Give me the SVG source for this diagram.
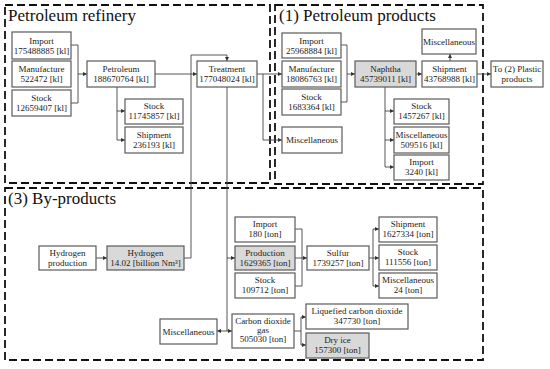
<svg xmlns="http://www.w3.org/2000/svg" width="550" height="369" viewBox="0 0 550 369">
<defs>
<marker id="ah" markerUnits="userSpaceOnUse" markerWidth="5" markerHeight="5" refX="4" refY="2.5" orient="auto">
<path d="M0,0.5 L4,2.5 L0,4.5 Z" fill="#333"/>
</marker>
</defs>
<style>
.box{fill:#fff;stroke:#5a5a5a;stroke-width:1.2}
.gray{fill:#d9d9d9}
.t{font-family:"Liberation Serif","Times New Roman",serif;font-size:9px;fill:#222;text-anchor:middle}
.title{font-family:"Liberation Serif","Times New Roman",serif;font-size:17px;fill:#111}
.dash{fill:none;stroke:#111;stroke-width:1.8;stroke-dasharray:8 4}
.c{fill:none;stroke:#444;stroke-width:0.9}
.a{marker-end:url(#ah)}
</style>
<rect width="550" height="369" fill="#fff"/>

<g id="regions">
<rect class="dash" x="5" y="5" width="265" height="178"/>
<rect class="dash" x="275" y="5" width="208" height="179"/>
<rect class="dash" x="5" y="188" width="478" height="172"/>
<text class="title" x="8" y="21">Petroleum refinery</text>
<text class="title" x="279" y="21">(1) Petroleum products</text>
<text class="title" x="8" y="204">(3) By-products</text>
</g>

<g id="connectors">
<path class="c" d="M71,45 H78 V103 H71"/>
<path class="c a" d="M78,74 H87"/>
<path class="c" d="M117,87 V140"/>
<path class="c a" d="M117,111 H125"/>
<path class="c a" d="M117,140 H125"/>
<path class="c a" d="M155,74 H197"/>
<path class="c a" d="M184,258 H191 V55 H227 V61"/>
<path class="c a" d="M257,74 H282"/>
<path class="c a" d="M263,74 V140 H282"/>
<path class="c" d="M227,87 V331"/>
<path class="c a" d="M227,258 H235"/>
<path class="c a" d="M227,331 H217"/>
<path class="c a" d="M227,331 H232"/>
<path class="c" d="M341,45 H347 V102 H341"/>
<path class="c a" d="M347,74 H355"/>
<path class="c" d="M385,87 V167"/>
<path class="c a" d="M385,111 H394"/>
<path class="c a" d="M385,140 H394"/>
<path class="c a" d="M385,167 H394"/>
<path class="c a" d="M416,74 H422"/>
<path class="c a" d="M450,61 V54"/>
<path class="c a" d="M477,74 H491"/>
<path class="c a" d="M96,258 H107"/>
<path class="c" d="M295,229 H302 V286 H295"/>
<path class="c" d="M295,258 H302"/>
<path class="c a" d="M302,258 H307"/>
<path class="c" d="M369,258 H373"/>
<path class="c" d="M373,229 V286"/>
<path class="c a" d="M373,229 H379"/>
<path class="c a" d="M373,258 H379"/>
<path class="c a" d="M373,286 H379"/>
<path class="c" d="M294,331 H301"/>
<path class="c" d="M301,317 V345"/>
<path class="c a" d="M301,317 H306"/>
<path class="c a" d="M301,345 H306"/>
</g>

<g id="r_import"><rect class="box" x="12" y="32" width="59" height="27"/><text class="t" x="41.5" y="44">Import</text><text class="t" x="41.5" y="54">175488885 [kl]</text></g>
<g id="r_manufacture"><rect class="box" x="12" y="61" width="59" height="26"/><text class="t" x="41.5" y="72">Manufacture</text><text class="t" x="41.5" y="82">522472 [kl]</text></g>
<g id="r_stock"><rect class="box" x="12" y="90" width="59" height="26"/><text class="t" x="41.5" y="101">Stock</text><text class="t" x="41.5" y="111">12659407 [kl]</text></g>
<g id="petroleum"><rect class="box" x="87" y="61" width="68" height="26"/><text class="t" x="121" y="72">Petroleum</text><text class="t" x="121" y="82">188670764 [kl]</text></g>
<g id="r_stock2"><rect class="box" x="125" y="99" width="58" height="25"/><text class="t" x="154" y="109">Stock</text><text class="t" x="154" y="119">11745857 [kl]</text></g>
<g id="r_shipment"><rect class="box" x="125" y="127" width="58" height="26"/><text class="t" x="154" y="138">Shipment</text><text class="t" x="154" y="148">236193 [kl]</text></g>
<g id="treatment"><rect class="box" x="197" y="61" width="60" height="26"/><text class="t" x="227" y="72">Treatment</text><text class="t" x="227" y="82">177048024 [kl]</text></g>

<g id="p_import"><rect class="box" x="282" y="33" width="59" height="25"/><text class="t" x="311.5" y="44">Import</text><text class="t" x="311.5" y="54">25968884 [kl]</text></g>
<g id="p_manufacture"><rect class="box" x="282" y="61" width="59" height="26"/><text class="t" x="311.5" y="72">Manufacture</text><text class="t" x="311.5" y="82">18086763 [kl]</text></g>
<g id="p_stock"><rect class="box" x="282" y="89" width="59" height="26"/><text class="t" x="311.5" y="100">Stock</text><text class="t" x="311.5" y="110">1683364 [kl]</text></g>
<g id="p_misc"><rect class="box" x="282" y="127" width="60" height="26"/><text class="t" x="312" y="143">Miscellaneous</text></g>
<g id="naphtha"><rect class="box gray" x="355" y="61" width="61" height="26"/><text class="t" x="385.5" y="72">Naphtha</text><text class="t" x="385.5" y="82">45739011 [kl]</text></g>
<g id="p_shipment"><rect class="box" x="422" y="61" width="55" height="26"/><text class="t" x="449.5" y="72">Shipment</text><text class="t" x="449.5" y="82">43768988 [kl]</text></g>
<g id="p_misc2"><rect class="box" x="422" y="29" width="54" height="25"/><text class="t" x="449" y="44.5">Miscellaneous</text></g>
<g id="to_plastic"><rect class="box" x="491" y="61" width="52" height="26"/><text class="t" x="517" y="72">To (2) Plastic</text><text class="t" x="517" y="82">products</text></g>
<g id="n_stock"><rect class="box" x="394" y="99" width="55" height="25"/><text class="t" x="421.5" y="109">Stock</text><text class="t" x="421.5" y="119">1457267 [kl]</text></g>
<g id="n_misc"><rect class="box" x="394" y="127" width="55" height="26"/><text class="t" x="421.5" y="138">Miscellaneous</text><text class="t" x="421.5" y="148">509516 [kl]</text></g>
<g id="n_import"><rect class="box" x="394" y="155" width="55" height="25"/><text class="t" x="421.5" y="165">Import</text><text class="t" x="421.5" y="175">3240 [kl]</text></g>

<g id="h_production"><rect class="box" x="39" y="246" width="57" height="24"/><text class="t" x="67.5" y="256">Hydrogen</text><text class="t" x="67.5" y="266">production</text></g>
<g id="hydrogen"><rect class="box gray" x="107" y="246" width="77" height="24"/><text class="t" x="145.5" y="256">Hydrogen</text><text class="t" x="145.5" y="266">14.02 [billion Nm³]</text></g>
<g id="b_misc"><rect class="box" x="160" y="319" width="57" height="25"/><text class="t" x="188.5" y="334.5">Miscellaneous</text></g>
<g id="s_import"><rect class="box" x="235" y="217" width="60" height="25"/><text class="t" x="265" y="227">Import</text><text class="t" x="265" y="237">180 [ton]</text></g>
<g id="s_production"><rect class="box gray" x="235" y="246" width="60" height="24"/><text class="t" x="265" y="256">Production</text><text class="t" x="265" y="266">1629365 [ton]</text></g>
<g id="s_stock"><rect class="box" x="235" y="273" width="60" height="25"/><text class="t" x="265" y="283">Stock</text><text class="t" x="265" y="293">109712 [ton]</text></g>
<g id="sulfur"><rect class="box" x="307" y="246" width="62" height="24"/><text class="t" x="338" y="256">Sulfur</text><text class="t" x="338" y="266">1739257 [ton]</text></g>
<g id="s_shipment"><rect class="box" x="379" y="217" width="58" height="25"/><text class="t" x="408" y="227">Shipment</text><text class="t" x="408" y="237">1627334 [ton]</text></g>
<g id="s_stock2"><rect class="box" x="379" y="245" width="58" height="25"/><text class="t" x="408" y="255">Stock</text><text class="t" x="408" y="265">111556 [ton]</text></g>
<g id="s_misc"><rect class="box" x="379" y="273" width="58" height="25"/><text class="t" x="408" y="283">Miscellaneous</text><text class="t" x="408" y="293">24 [ton]</text></g>
<g id="co2"><rect class="box" x="232" y="314" width="62" height="34"/><text class="t" x="263" y="324">Carbon dioxide</text><text class="t" x="263" y="333">gas</text><text class="t" x="263" y="342">505030 [ton]</text></g>
<g id="lco2"><rect class="box" x="306" y="304" width="102" height="25"/><text class="t" x="357" y="314">Liquefied carbon dioxide</text><text class="t" x="357" y="324">347730 [ton]</text></g>
<g id="dry_ice"><rect class="box gray" x="306" y="333" width="63" height="25"/><text class="t" x="337.5" y="343">Dry ice</text><text class="t" x="337.5" y="353">157300 [ton]</text></g>
</svg>
